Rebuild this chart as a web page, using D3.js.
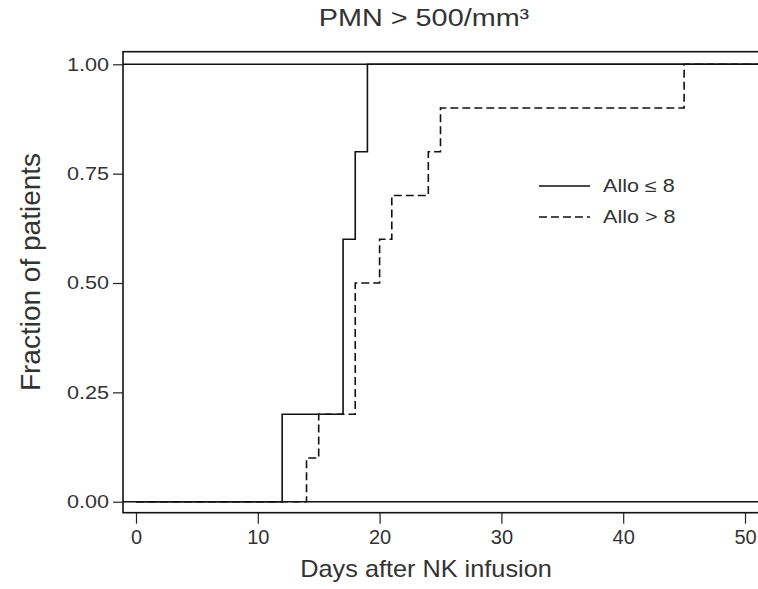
<!DOCTYPE html>
<html>
<head>
<meta charset="utf-8">
<script src="https://cdn.jsdelivr.net/npm/d3@7"></script>
<style>
  body { margin: 0; background: #fff; }
  text { font-family: "Liberation Sans", Arial, sans-serif; fill: #333; }
</style>
</head>
<body>
<script>
var width = 758;
var height = 589;

// Kaplan-Meier style cumulative incidence
var lowDays = [0, 12, 17, 18, 19];
var lowFrac = [0, 0.2, 0.6, 0.8, 1.0];
var highDays = [0, 14, 15, 18, 20, 21, 24, 25, 45];
var highFrac = [0, 0.1, 0.2, 0.5, 0.6, 0.7, 0.8, 0.9, 1.0];

var xTicks = [0, 10, 20, 30, 40, 50];
var yTicks = [0, 0.25, 0.5, 0.75, 1];
var seriesNames = ["Allo \u2264 8", "Allo > 8"];

var box = { left: 123, top: 51.7, bottom: 512.7, right: 790 };
var stretch = 1.2; // the original text is a bit wide

var x = d3.scaleLinear().domain([0, 50]).range([136, 745]);
var y = d3.scaleLinear().domain([0, 1]).range([501.7, 64.3]);
var xEnd = x.invert(box.right);

var svg = d3.select("body")
  .append("svg")
  .attr("width", width)
  .attr("height", height);

svg.append("rect")
  .attr("width", width)
  .attr("height", height)
  .attr("fill", "#fff");

// plot frame
svg.append("rect")
  .attr("x", box.left)
  .attr("y", box.top)
  .attr("width", box.right - box.left)
  .attr("height", box.bottom - box.top)
  .attr("fill", "none")
  .attr("stroke", "#111")
  .attr("stroke-width", 1.6);

// reference lines at 0 and 1
svg.selectAll(".ref")
  .data([0, 1])
  .enter()
  .append("line")
  .attr("x1", box.left)
  .attr("x2", box.right)
  .attr("y1", d => y(d))
  .attr("y2", d => y(d))
  .attr("stroke", "#111")
  .attr("stroke-width", 1.5);

var yAxis = svg.append("g")
  .attr("transform", `translate(${box.left}, 0)`)
  .call(d3.axisLeft(y).tickValues(yTicks).tickFormat(d3.format(".2f")).tickSize(10));
yAxis.select(".domain").remove();
yAxis.selectAll("line").attr("stroke", "#222").attr("stroke-width", 1.2);
yAxis.selectAll("text")
  .attr("x", -14 / stretch)
  .attr("transform", `scale(${stretch},1)`)
  .attr("font-size", "18px")
  .attr("fill", "#444")
  .style("font-family", "'Liberation Sans', Arial, sans-serif");

var xAxis = svg.append("g")
  .attr("transform", `translate(0, ${box.bottom})`)
  .call(d3.axisBottom(x).tickValues(xTicks).tickSize(11).tickPadding(6));
xAxis.select(".domain").remove();
xAxis.selectAll("line").attr("stroke", "#222").attr("stroke-width", 1.2);
xAxis.selectAll("text").attr("font-size", "20px").attr("fill", "#444").style("font-family", "'Liberation Sans', Arial, sans-serif");

var line = d3.line()
  .x(d => x(d[0]))
  .y(d => y(d[1]))
  .curve(d3.curveStepAfter);

function pts(days, frac) {
  var p = days.map((d, i) => [d, frac[i]]);
  p.push([xEnd, frac[frac.length - 1]]);
  return p;
}

svg.append("path")
  .attr("d", line(pts(highDays, highFrac)))
  .attr("fill", "none")
  .attr("stroke", "#111")
  .attr("stroke-width", 1.6)
  .attr("stroke-dasharray", "8,4");

svg.append("path")
  .attr("d", line(pts(lowDays, lowFrac)))
  .attr("fill", "none")
  .attr("stroke", "#111")
  .attr("stroke-width", 1.6);

// legend
var legend = svg.selectAll(".legend")
  .data(seriesNames)
  .enter()
  .append("g")
  .attr("transform", (d, i) => `translate(539, ${186 + i * 31})`);

legend.append("line")
  .attr("x1", 0)
  .attr("x2", 51)
  .attr("stroke", "#111")
  .attr("stroke-width", 1.5)
  .attr("stroke-dasharray", (d, i) => i == 0 ? null : "8,4");

legend.append("text")
  .attr("transform", `translate(64, 6) scale(${stretch},1)`)
  .attr("font-size", "18px")
  .text(d => d);

// titles
svg.append("text")
  .attr("transform", `translate(424, 26) scale(${stretch},1)`)
  .attr("text-anchor", "middle")
  .attr("font-size", "24px")
  .text("PMN > 500/mm\u00b3");

svg.append("text")
  .attr("transform", "translate(426, 577) scale(1.1,1)")
  .attr("text-anchor", "middle")
  .attr("font-size", "23px")
  .text("Days after NK infusion");

svg.append("text")
  .attr("transform", "translate(40, 272) rotate(-90)")
  .attr("text-anchor", "middle")
  .attr("font-size", "28px")
  .text("Fraction of patients");
</script>
</body>
</html>
